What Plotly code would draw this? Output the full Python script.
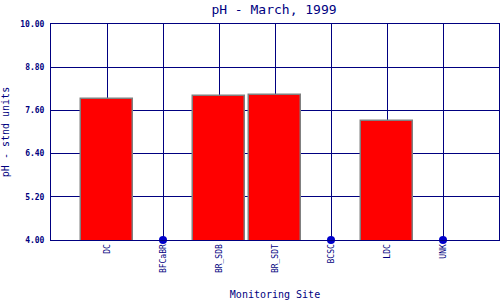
import plotly.graph_objects as go

sites = ["DC", "BFCaBR", "BR_SDB", "BR_SDT", "BCSC", "LDC", "UNK"]
ph_values = [7.91, None, 8.00, 8.02, None, 7.31, None]
y_ticks = [4.00, 5.20, 6.40, 7.60, 8.80, 10.00]

Y_MIN, Y_MAX = 4.0, 10.0
NAVY = "#000080"
FONT = "DejaVu Sans Mono"

x_pos = list(range(len(sites)))
bar_x = [x for x, v in zip(x_pos, ph_values) if v is not None]
bar_y = [v for v in ph_values if v is not None]
miss_x = [x for x, v in zip(x_pos, ph_values) if v is None]
miss_y = [Y_MIN for _ in miss_x]

fig = go.Figure()
fig.add_trace(go.Bar(
    x=bar_x, y=bar_y, width=0.93,
    marker=dict(color="#ff0000", line=dict(color="#808080", width=1.5)),
    showlegend=False,
))
fig.add_trace(go.Scatter(
    x=miss_x, y=miss_y, mode="markers",
    marker=dict(color="#0000cc", size=8),
    cliponaxis=False, showlegend=False,
))

fig.update_layout(
    width=500, height=300,
    margin=dict(l=51, r=1, t=24, b=60),
    paper_bgcolor="white", plot_bgcolor="white",
    title=dict(text="pH - March, 1999", x=0.548, xanchor="center", y=0.97, yanchor="middle",
               font=dict(family=FONT, size=13, color=NAVY)),
    font=dict(family=FONT, color=NAVY),
    bargap=0,
)
fig.update_xaxes(
    range=[-1, 7], tickmode="array", tickvals=x_pos, ticktext=sites,
    tickangle=-90, tickfont=dict(family=FONT, size=8, color=NAVY),
    showgrid=True, gridcolor=NAVY, gridwidth=1,
    showline=True, linecolor=NAVY, linewidth=1, mirror=True,
    zeroline=False, ticks="",
    title=dict(text="Monitoring Site", font=dict(family=FONT, size=10, color=NAVY), standoff=18),
)
fig.update_yaxes(
    range=[Y_MIN, Y_MAX], tickmode="array", tickvals=y_ticks,
    ticktext=[f"{t:.2f}" for t in y_ticks],
    tickfont=dict(family=FONT, size=8, color=NAVY, weight="bold"),
    showgrid=True, gridcolor=NAVY, gridwidth=1,
    showline=True, linecolor=NAVY, linewidth=1, mirror=True,
    zeroline=False, ticks="", ticklabelstandoff=4,
    title=dict(text="pH - stnd units", font=dict(family=FONT, size=10, color=NAVY), standoff=8),
)

fig.write_html("out.html")
